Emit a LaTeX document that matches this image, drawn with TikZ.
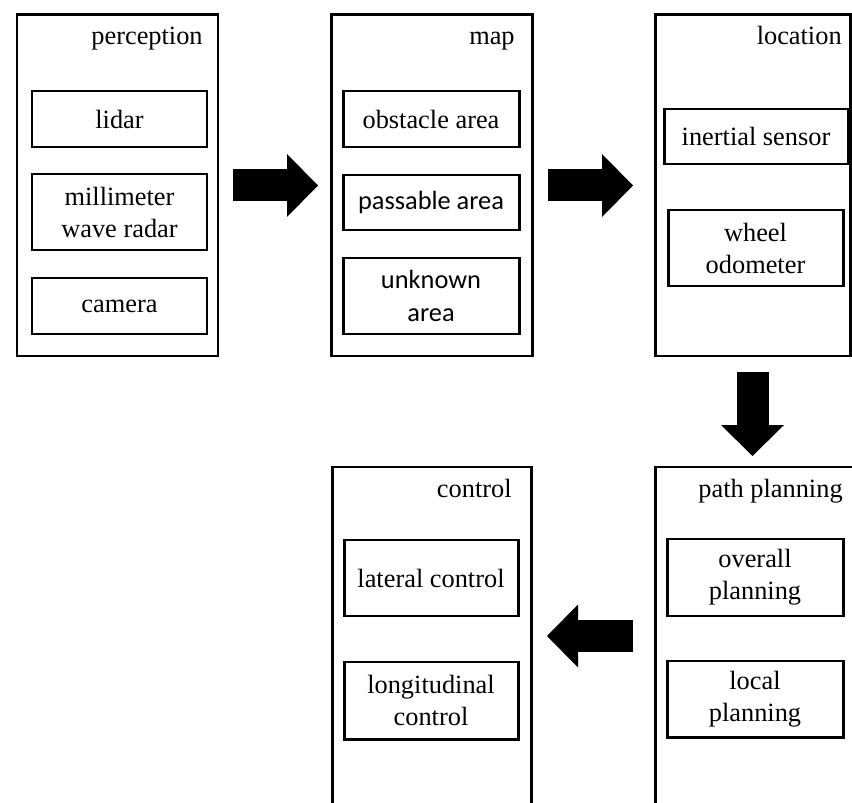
\documentclass[tikz,border=0pt]{standalone}
\usepackage{fontspec}
\setmainfont{Liberation Serif}
\newfontfamily\calibri{Carlito}
\usetikzlibrary{arrows.meta}
\tikzset{
  outerbox/.style={draw,line width=1.7pt,inner sep=0pt,outer sep=0pt},
  innerbox/.style={draw,line width=1.7pt,inner sep=0pt,outer sep=0pt,align=center,
    font=\fontsize{15}{18.2}\selectfont},
  sansbox/.style={innerbox,font=\calibri\fontsize{15}{18.6}\selectfont},
  boxtitle/.style={anchor=base east,inner sep=0pt,font=\fontsize{15}{18.2}\selectfont},
  blockarrow/.style={line width=0.64cm,-{Triangle[length=0.62cm,width=1.26cm,line width=0pt]}}
}
\begin{document}
\begin{tikzpicture}
\useasboundingbox (0,0) rectangle (17.04,-16.06);
\clip (0,0) rectangle (17.04,-16.06);
\node[outerbox,minimum width=4.02cm,minimum height=6.82cm] (perc) at (2.35,-3.71) {};
\node[boxtitle] (perctitle) at (4.06,-0.90) {perception};
\node[innerbox,minimum width=3.5cm,minimum height=1.12cm] (lidar) at (2.39,-2.38) {lidar};
\node[innerbox,minimum width=3.5cm,minimum height=1.52cm] (radar) at (2.39,-4.24) {millimeter\\wave radar};
\node[innerbox,minimum width=3.5cm,minimum height=1.12cm] (camera) at (2.39,-6.12) {camera};
\node[outerbox,minimum width=4.02cm,minimum height=6.82cm] (map) at (8.63,-3.71) {};
\node[boxtitle] (maptitle) at (10.30,-0.90) {map};
\node[innerbox,minimum width=3.52cm,minimum height=1.12cm] (obstacle) at (8.62,-2.38) {obstacle area};
\node[sansbox,minimum width=3.52cm,minimum height=1.1cm] (passable) at (8.62,-4.05) {passable area};
\node[sansbox,minimum width=3.52cm,minimum height=1.52cm] (unknown) at (8.62,-5.92) {unknown\\area};
\node[outerbox,minimum width=3.9cm,minimum height=6.82cm] (loc) at (15.05,-3.71) {};
\node[boxtitle] (loctitle) at (16.84,-0.90) {location};
\node[innerbox,minimum width=3.68cm,minimum height=1.1cm] (inertial) at (15.12,-2.73) {inertial sensor};
\node[innerbox,minimum width=3.5cm,minimum height=1.52cm] (wheel) at (15.11,-4.96) {wheel\\odometer};
\node[outerbox,minimum width=4.06cm,minimum height=6.76cm] (plan) at (15.13,-12.72) {};
\node[boxtitle] (plantitle) at (16.86,-9.94) {path planning};
\node[innerbox,minimum width=3.52cm,minimum height=1.54cm] (overall) at (15.10,-11.55) {overall\\planning};
\node[innerbox,minimum width=3.52cm,minimum height=1.52cm] (local) at (15.10,-13.98) {local\\planning};
\node[outerbox,minimum width=3.98cm,minimum height=6.76cm] (ctrl) at (8.63,-12.72) {};
\node[boxtitle] (ctrltitle) at (10.24,-9.94) {control};
\node[innerbox,minimum width=3.48cm,minimum height=1.52cm] (lateral) at (8.62,-11.56) {lateral control};
\node[innerbox,minimum width=3.48cm,minimum height=1.54cm] (longit) at (8.62,-14.01) {longitudinal\\control};
\draw[blockarrow,shorten <=0.30cm,shorten >=0.26cm] (perc.east) -- (map.west);
\draw[blockarrow,shorten <=0.32cm,shorten >=0.44cm] (map.east) -- (loc.west);
\draw[blockarrow,shorten <=0.32cm,shorten >=0.22cm] (loc.south) -- (loc.south |- plan.north);
\draw[blockarrow,shorten <=0.44cm,shorten >=0.32cm] (plan.west) -- (ctrl.east);
\end{tikzpicture}
\end{document}
